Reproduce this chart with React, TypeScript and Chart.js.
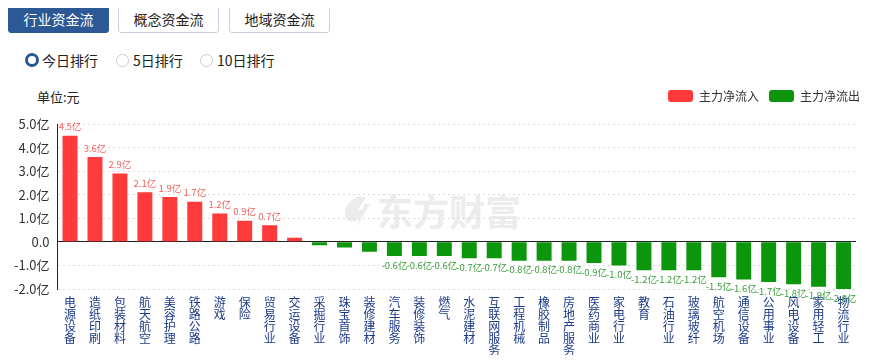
import React, { useEffect, useRef } from "react";
import { Chart, registerables } from "chart.js";

Chart.register(...registerables);

const categories = [
  "电源设备", "造纸印刷", "包装材料", "航天航空", "美容护理", "铁路公路", "游戏", "保险",
  "贸易行业", "交运设备", "采掘行业", "珠宝首饰", "装修建材", "汽车服务", "装修装饰", "燃气",
  "水泥建材", "互联网服务", "工程机械", "橡胶制品", "房地产服务", "医药商业", "家电行业", "教育",
  "石油行业", "玻璃玻纤", "航空机场", "通信设备", "公用事业", "风电设备", "家用轻工", "物流行业",
];

const netFlow = [
  4.5, 3.6, 2.9, 2.1, 1.9, 1.7, 1.2, 0.9, 0.7, 0.17,
  -0.14, -0.24, -0.42, -0.6, -0.6, -0.6, -0.7, -0.7, -0.8, -0.8,
  -0.8, -0.9, -1.0, -1.2, -1.2, -1.2, -1.5, -1.6, -1.7, -1.8, -1.9, -2.0,
];

const seriesNames = ["主力净流入", "主力净流出"];
const yTicks = [5, 4, 3, 2, 1, 0, -1, -2];

const RED = "#ff3a3a";
const GREEN = "#0b960b";
const FONT = "'Noto Sans CJK SC', sans-serif";

const tabStyle = (active: boolean): React.CSSProperties => ({
  position: "absolute",
  top: 5,
  height: 28,
  width: 101,
  boxSizing: "border-box",
  border: active ? "1px solid #2c5896" : "1px solid #c9d2de",
  background: active ? "#2c5896" : "#fff",
  color: active ? "#fff" : "#222",
  borderRadius: 3,
  fontSize: 14,
  lineHeight: "26px",
  textAlign: "center",
  fontFamily: FONT,
});

const radioText: React.CSSProperties = {
  position: "absolute",
  top: 50,
  fontSize: 14,
  lineHeight: "20px",
  color: "#222",
  fontFamily: FONT,
};

export default function App() {
  const ref = useRef<HTMLCanvasElement>(null);

  useEffect(() => {
    if (!ref.current) return;
    const inflow = netFlow.map((v) => (v >= 0 ? v : null));
    const outflow = netFlow.map((v) => (v < 0 ? v : null));

    const legendSpacing = {
      id: "legendSpacing",
      beforeInit(chart: any) {
        const orig = chart.legend.fit;
        chart.legend.fit = function () {
          orig.bind(chart.legend)();
          this.height += 12;
        };
      },
      afterLayout(chart: any) {
        chart.legend.left += 14;
        chart.legend.right += 14;
      },
    };

    const valueLabels = {
      id: "valueLabels",
      afterDatasetsDraw(chart: any) {
        const ctx = chart.ctx;
        ctx.save();
        ctx.font = "9.5px " + FONT;
        ctx.textAlign = "center";
        ctx.textBaseline = "middle";
        chart.data.datasets.forEach((ds: any, di: number) => {
          const meta = chart.getDatasetMeta(di);
          meta.data.forEach((el: any, i: number) => {
            const v = ds.data[i];
            if (v === null || Math.abs(v) < 0.5) return;
            const txt = v.toFixed(1) + "亿";
            if (v > 0) {
              ctx.fillStyle = "#f0605c";
              ctx.fillText(txt, el.x, el.y - 9);
            } else {
              ctx.fillStyle = "#3a9d3a";
              ctx.fillText(txt, el.x, el.y + 9);
            }
          });
        });
        ctx.restore();
      },
    };

    const chart = new Chart(ref.current, {
      type: "bar",
      data: {
        labels: categories.map((c) => c.split("")),
        datasets: [
          { label: seriesNames[0], data: inflow, backgroundColor: RED, borderWidth: 0 },
          { label: seriesNames[1], data: outflow, backgroundColor: GREEN, borderWidth: 0 },
        ],
      },
      options: {
        animation: false,
        responsive: false,
        maintainAspectRatio: false,
        layout: { padding: { left: 6, right: 17, top: 0, bottom: 0 } },
        datasets: { bar: { barPercentage: 0.6, categoryPercentage: 1 } },
        plugins: {
          legend: {
            position: "top",
            align: "end",
            labels: {
              boxWidth: 25,
              boxHeight: 12,
              useBorderRadius: true,
              borderRadius: 3,
              padding: 10,
              color: "#333",
              font: { size: 12, family: FONT },
            },
          },
          tooltip: { enabled: false },
        },
        scales: {
          x: {
            stacked: true,
            grid: { display: false, drawTicks: false },
            border: { display: false },
            ticks: {
              maxRotation: 0,
              minRotation: 0,
              autoSkip: false,
              padding: 7,
              color: "#1d3a8a",
              font: { size: 12, lineHeight: 1.0, family: FONT },
            },
          },
          y: {
            stacked: true,
            min: -2,
            max: 5,
            afterBuildTicks(scale: any) {
              scale.ticks = yTicks.map((v) => ({ value: v }));
            },
            grid: {
              color: (c: any) => (c.tick && c.tick.value === 0 ? "#222" : "#dcdcdc"),
              lineWidth: 1,
              drawTicks: false,
            },
            border: {
              display: true,
              color: "#222",
              dash: (c: any) => (c.tick && c.tick.value === 0 ? [] : [2, 3]),
            },
            ticks: {
              padding: 8,
              color: "#333",
              font: { size: 13, family: FONT },
              callback: (v: any) => (v === 0 ? "0.0" : Number(v).toFixed(1) + "亿"),
            },
          },
        },
      },
      plugins: [legendSpacing, valueLabels],
    } as any);
    return () => chart.destroy();
  }, []);

  return (
    <div style={{ position: "relative", width: 873, height: 363, margin: -8, background: "#fff", overflow: "hidden" }}>
      <div style={{ ...tabStyle(true), left: 8 }}>行业资金流</div>
      <div style={{ ...tabStyle(false), left: 118 }}>概念资金流</div>
      <div style={{ ...tabStyle(false), left: 229 }}>地域资金流</div>

      <div style={{ position: "absolute", left: 25, top: 53, width: 8, height: 8, borderRadius: "50%", border: "3px solid #2c5896", background: "#fff" }} />
      <div style={{ ...radioText, left: 42 }}>今日排行</div>
      <div style={{ position: "absolute", left: 116, top: 54, width: 11, height: 11, borderRadius: "50%", border: "1px solid #ccc", background: "#fff" }} />
      <div style={{ ...radioText, left: 133 }}>5日排行</div>
      <div style={{ position: "absolute", left: 200, top: 54, width: 11, height: 11, borderRadius: "50%", border: "1px solid #ccc", background: "#fff" }} />
      <div style={{ ...radioText, left: 217 }}>10日排行</div>

      <div style={{ position: "absolute", left: 37, top: 87, fontSize: 13, color: "#222", fontFamily: FONT }}>单位:元</div>

      <svg style={{ position: "absolute", left: 340, top: 194 }} width={34} height={36} viewBox="0 0 34 36">
        <path d="M20 2 C8 6 2 16 6 24 C10 30 18 28 22 22 C24 18 22 14 18 16 L26 4 Z" fill="#ececec" />
        <path d="M16 34 L30 10 L24 10 Z" fill="#ececec" />
      </svg>
      <div style={{ position: "absolute", left: 377, top: 186, fontSize: 36, lineHeight: "48px", fontWeight: 700, color: "#ececec", fontFamily: FONT }}>
        东方财富
      </div>

      <div style={{ position: "absolute", left: 0, top: 80, width: 873, height: 283 }}>
        <canvas ref={ref} width={873} height={283} />
      </div>
    </div>
  );
}
